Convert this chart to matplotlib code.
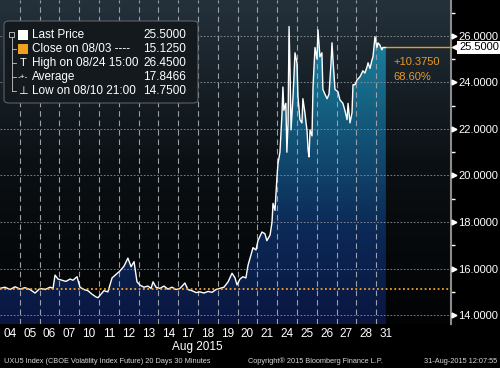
import numpy as np
import matplotlib
matplotlib.use("Agg")
import matplotlib.pyplot as plt
import matplotlib.transforms as mtransforms
from matplotlib.colors import LinearSegmentedColormap
from matplotlib.patches import FancyBboxPatch, Rectangle

# 30-minute bars, time in trading days from the left edge (day 04 = 0..1)
t = [0.00, 0.25, 0.51, 0.76, 1.01, 1.26, 1.52, 1.77, 2.02, 2.27, 2.53, 2.68, 2.78, 2.93,
     3.13, 3.33, 3.54, 3.69, 3.89, 4.04, 4.24, 4.44, 4.65, 4.85, 4.95, 5.10, 5.25, 5.45,
     5.66, 5.86, 6.06, 6.26, 6.46, 6.62, 6.77, 6.92, 7.07, 7.27, 7.47, 7.63, 7.73, 7.88,
     8.08, 8.28, 8.48, 8.69, 8.89, 9.09, 9.34, 9.49, 9.70, 9.90, 10.10, 10.30, 10.51,
     10.71, 10.91, 11.11, 11.31, 11.52, 11.72, 11.87, 11.97, 12.12, 12.27, 12.42, 12.53,
     12.63, 12.78, 12.93, 13.03, 13.23, 13.38, 13.48, 13.64, 13.74, 13.79, 13.89, 13.99,
     14.04, 14.14, 14.24, 14.29, 14.34, 14.44, 14.49, 14.55, 14.60, 14.65, 14.70, 14.80,
     14.90, 15.00, 15.05, 15.15, 15.25, 15.30, 15.40, 15.51, 15.56, 15.61, 15.66, 15.76,
     15.81, 15.91, 16.01, 16.06, 16.16, 16.26, 16.31, 16.41, 16.52, 16.62, 16.72, 16.77,
     16.82, 16.92, 17.07, 17.17, 17.32, 17.42, 17.53, 17.58, 17.68, 17.78, 17.83, 17.93,
     18.03, 18.18, 18.33, 18.43, 18.54, 18.59, 18.69, 18.79, 18.84, 18.94, 19.04, 19.09,
     19.19, 19.29, 19.34, 19.49]
price = [15.15, 15.20, 15.10, 15.22, 15.12, 15.18, 15.10, 14.95, 15.15, 15.10, 15.20, 15.15,
         15.72, 15.55, 15.50, 15.45, 15.55, 15.50, 15.65, 15.20, 15.10, 15.05, 14.90, 14.78,
         14.75, 14.90, 15.05, 15.00, 15.60, 15.75, 15.90, 16.10, 16.45, 16.08, 16.30, 15.43,
         15.29, 15.20, 15.25, 15.15, 15.43, 15.20, 15.15, 15.25, 15.12, 15.20, 15.10, 15.15,
         15.38, 15.10, 15.05, 14.97, 15.00, 14.95, 15.02, 14.98, 15.10, 15.15, 15.20, 15.43,
         15.80, 15.60, 15.30, 15.55, 15.65, 15.60, 16.15, 16.45, 16.90, 16.80, 17.20, 17.57,
         17.50, 17.20, 17.44, 18.00, 18.80, 18.50, 19.94, 20.50, 21.00, 22.60, 23.80, 22.80,
         23.10, 21.00, 22.26, 26.40, 24.50, 21.96, 23.37, 25.27, 24.84, 23.40, 22.40, 22.26,
         23.30, 22.70, 21.90, 21.10, 20.80, 21.96, 21.70, 23.80, 25.50, 25.00, 26.26, 25.10,
         25.27, 23.70, 23.50, 23.30, 23.50, 24.84, 25.70, 24.97, 23.70, 23.60, 23.25, 23.10,
         22.80, 22.40, 23.10, 22.26, 22.70, 23.90, 23.90, 24.10, 24.24, 24.50, 24.40, 24.67,
         24.84, 24.60, 24.97, 25.10, 25.96, 25.50, 25.70, 25.60, 25.40, 25.50, 25.50]

day_labels = ["04", "05", "06", "07", "10", "11", "12", "13", "14", "17",
              "18", "19", "20", "21", "24", "25", "26", "27", "28", "31"]
y_ticks = [14, 16, 18, 20, 22, 24, 26]
close_0803 = 15.125
last_price = 25.5
legend_rows = [("Last Price", "25.5000"),
               ("Close on 08/03 ----", "15.1250"),
               ("High on 08/24 15:00", "26.4500"),
               ("Average", "17.8466"),
               ("Low on 08/10 21:00", "14.7500")]

plt.rcParams['font.family'] = ['Liberation Sans', 'DejaVu Sans']

fig = plt.figure(figsize=(5, 3.68), dpi=100, facecolor='black')
ax = fig.add_axes([0, 0.1196, 0.902, 0.8804])
xmin, xmax = 0, 22.78
ymin, ymax = 13.62, 27.54
ax.set_xlim(xmin, xmax)
ax.set_ylim(ymin, ymax)

# background gradient
bg_cmap = LinearSegmentedColormap.from_list("bg", ["#020304", "#0b1014", "#24313b"])
grad = np.linspace(0, 1, 256).reshape(-1, 1)
ax.imshow(grad, extent=[xmin, xmax, ymin, ymax], origin='lower', aspect='auto',
          cmap=bg_cmap, zorder=0)

# area fill with vertical gradient
fill_cmap = LinearSegmentedColormap.from_list("fill", ["#0a1540", "#0c2a58", "#13587a", "#1d87a3"])
poly = ax.fill_between(t, price, ymin, facecolor='none', edgecolor='none')
im = ax.imshow(grad, extent=[xmin, xmax, ymin, 26.5], origin='lower', aspect='auto',
               cmap=fill_cmap, zorder=2)
im.set_clip_path(poly.get_paths()[0], transform=ax.transData)
ax.set_ylim(ymin, ymax)

# grid
for y in y_ticks:
    ax.axhline(y, color='#8a949a', lw=0.6, ls=(0, (2, 2)), zorder=3)
for d in range(1, len(day_labels)):
    ax.axvline(d, color='#9aa0a6', lw=0.8, ls=(0, (5, 3.5)), zorder=3)

ax.plot(t, price, color='white', lw=1.0, zorder=5)
ax.axhline(close_0803, color='#f0a030', lw=1.3, ls=(0, (1, 1.4)), zorder=6)
ax.plot([t[-1], xmax], [last_price, last_price], color='#e89a2c', lw=1.0, zorder=6, clip_on=False)
ax.text(19.85, 25.1, "+10.3750", color='#e89a2c', fontsize=8, va='top', zorder=7)
ax.text(19.85, 24.45, "68.60%", color='#e89a2c', fontsize=8, va='top', zorder=7)

# axes styling
for s in ['top', 'left', 'bottom']:
    ax.spines[s].set_visible(False)
ax.spines['right'].set_color('#8c8c8c')
ax.spines['right'].set_linewidth(1.5)
ax.yaxis.tick_right()
ax.set_yticks(y_ticks)
ax.set_yticklabels(["%.4f" % v for v in y_ticks])
ax.set_yticks(np.arange(15, 28, 2), minor=True)
ax.tick_params(axis='y', which='major', length=0, pad=5, colors='white', labelsize=8)
ax.tick_params(axis='y', which='minor', length=3, width=1, colors='white', direction='out')
ax.set_xticks([i + 0.5 for i in range(len(day_labels))])
ax.set_xticklabels(day_labels)
ax.tick_params(axis='x', length=0, pad=3, colors='white', labelsize=8.5)

trans = mtransforms.blended_transform_factory(ax.transAxes, ax.transData)
ax.plot([1.007] * len(y_ticks), y_ticks, ls='none', marker='>', ms=3.5, color='white',
        transform=trans, clip_on=False, zorder=8)

# last price tag
ax.text(1.018, last_price, "25.5000", transform=trans, fontsize=8, color='black',
        va='center', ha='left', zorder=9,
        bbox=dict(boxstyle='square,pad=0.15', fc='white', ec='none'))
ax.plot([1.009], [last_price], ls='none', marker='<', ms=5, color='white',
        transform=trans, clip_on=False, zorder=9)

fig.text(0.394, 0.057, "Aug 2015", color='white', fontsize=8.5, ha='center', va='center')
fig.text(0.008, 0.018, "UXU5 Index (CBOE Volatility Index Future) 20 Days 30 Minutes",
         color='#d8d8d8', fontsize=5.3, va='center')
fig.text(0.495, 0.018, "Copyright\u00ae 2015 Bloomberg Finance L.P.",
         color='#d8d8d8', fontsize=5.3, va='center')
fig.text(0.995, 0.018, "31-Aug-2015 12:07:55", color='#d8d8d8', fontsize=5.3,
         va='center', ha='right')

# legend box
W, H = 500.0, 368.0
fig.patches.append(FancyBboxPatch((4 / W, 1 - 103 / H), 194 / W, 82 / H,
                                  boxstyle='round,pad=0,rounding_size=0.01',
                                  transform=fig.transFigure, fc='#14191d', ec='#5a6066',
                                  lw=0.8, zorder=10))
row_y = [35, 49, 63, 77, 91]
for i, (lab, val) in enumerate(legend_rows):
    yf = 1 - row_y[i] / H
    fig.text(32 / W, yf, lab, color='white', fontsize=8.5, va='center', zorder=12)
    fig.text(186 / W, yf, val, color='white', fontsize=8.5, va='center', ha='right', zorder=12)
fig.patches.append(Rectangle((18 / W, 1 - 40 / H), 10 / W, 10 / H, transform=fig.transFigure,
                             fc='white', ec='none', zorder=12))
fig.patches.append(Rectangle((18 / W, 1 - 54 / H), 10 / W, 10 / H, transform=fig.transFigure,
                             fc='#f0a020', ec='none', zorder=12))
fig.patches.append(Rectangle((9 / W, 1 - 37 / H), 5 / W, 5 / H, transform=fig.transFigure,
                             fc='none', ec='#c8c8c8', lw=0.6, zorder=12))
fig.lines.append(plt.Line2D([11.5 / W, 11.5 / W], [1 - 37 / H, 1 - 91 / H],
                            transform=fig.transFigure, color='#c8c8c8', lw=0.6, zorder=12))
for ry in row_y[1:]:
    fig.lines.append(plt.Line2D([11.5 / W, 16 / W], [1 - ry / H, 1 - ry / H],
                                transform=fig.transFigure, color='#c8c8c8', lw=0.6, zorder=12))
fig.text(23 / W, 1 - 63 / H, "T", color='white', fontsize=8, ha='center', va='center', zorder=12)
fig.text(23 / W, 1 - 77 / H, "-+-", color='white', fontsize=6, ha='center', va='center', zorder=12)
fig.text(23 / W, 1 - 91 / H, "\u22a5", color='white', fontsize=8, ha='center', va='center', zorder=12)

fig.savefig("out.png", dpi=100, facecolor='black')
